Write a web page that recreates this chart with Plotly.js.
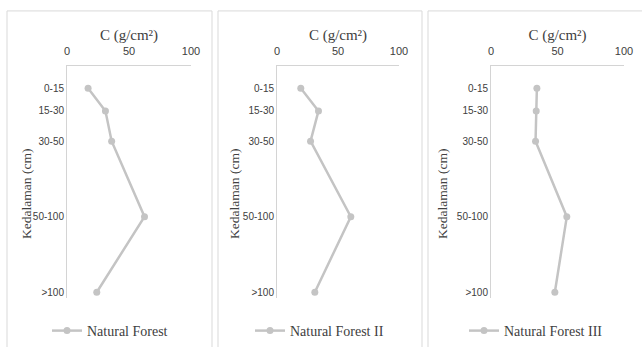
<!DOCTYPE html>
<html>
<head>
<meta charset="utf-8">
<script src="https://cdn.plot.ly/plotly-3.0.1.min.js"></script>
<style>
  html, body { margin: 0; padding: 0; background: #ffffff; }
  #chart { width: 642px; height: 347px; }
</style>
</head>
<body>
<div id="chart"></div>
<script>
// ---- data ----
const depthLabels = ["0-15", "15-30", "30-50", "50-100", ">100"];
const depthPos = [15, 30, 50, 100, 150];           // depth (cm) at which each layer is plotted
const forest1 = [17, 31, 36, 62.5, 24];             // Natural Forest
const forest2 = [19.5, 34, 27.5, 60.5, 31];         // Natural Forest II
const forest3 = [34.5, 34, 33.5, 57, 48];           // Natural Forest III
const seriesNames = ["Natural Forest", "Natural Forest II", "Natural Forest III"];
const xTicks = [0, 50, 100];

const W = 642, H = 347;
const px = v => v / W;
const py = v => 1 - v / H;

const lineColor = "#c4c4c4";
const axisColor = "#d4d4d4";
const serif = "'Liberation Serif', 'DejaVu Serif', serif";
const sans = "'Liberation Sans', 'Open Sans', sans-serif";

const xDomains = [[px(67), px(191)], [px(277), px(399)], [px(491), px(624)]];
const yDomain = [py(300), py(66)];
const series = [forest1, forest2, forest3];

const traces = series.map((vals, i) => ({
  type: "scatter",
  mode: "lines+markers",
  x: vals,
  y: depthPos,
  name: seriesNames[i],
  xaxis: i === 0 ? "x" : "x" + (i + 1),
  yaxis: i === 0 ? "y" : "y" + (i + 1),
  legend: i === 0 ? "legend" : "legend" + (i + 1),
  line: { color: lineColor, width: 2.5 },
  marker: { color: lineColor, size: 7 },
  hoverinfo: "x+y"
}));

const layout = {
  width: W, height: H,
  margin: { l: 0, r: 0, t: 0, b: 0 },
  paper_bgcolor: "#ffffff",
  plot_bgcolor: "#ffffff",
  showlegend: true,
  shapes: [],
  annotations: []
};

const legendX = [47, 250, 464];
const yTitleX = [27, 235, 443];

for (let i = 0; i < 3; i++) {
  const sfx = i === 0 ? "" : String(i + 1);
  layout["xaxis" + sfx] = {
    domain: xDomains[i],
    anchor: "y" + sfx,
    side: "top",
    range: [0, 100],
    tickvals: xTicks,
    ticks: "",
    ticklabelstandoff: 5,
    tickfont: { family: sans, size: 11, color: "#404040" },
    showline: true, linecolor: axisColor, linewidth: 1,
    showgrid: false, zeroline: false, fixedrange: true,
    title: { text: "C (g/cm²)", font: { family: serif, size: 15, color: "#404040" }, standoff: 0 }
  };
  layout["yaxis" + sfx] = {
    domain: yDomain,
    anchor: "x" + sfx,
    range: [154, 0],
    tickvals: depthPos,
    ticktext: depthLabels,
    ticks: "",
    ticklabelstandoff: 0,
    tickfont: { family: sans, size: 10, color: "#404040" },
    showline: true, linecolor: axisColor, linewidth: 1,
    showgrid: false, zeroline: false, fixedrange: true
  };
  layout.annotations.push({
    xref: "paper", yref: "paper",
    x: px(yTitleX[i]), y: py(195),
    xanchor: "center", yanchor: "middle",
    text: "Kedalaman (cm)", textangle: -90, showarrow: false,
    font: { family: serif, size: 13.5, color: "#404040" }
  });
  layout["legend" + sfx] = {
    x: px(legendX[i]), y: py(333),
    xanchor: "left", yanchor: "middle",
    orientation: "h",
    bgcolor: "rgba(0,0,0,0)",
    font: { family: serif, size: 14, color: "#404040" }
  };
}

// panel frames
const frames = [[7, 212], [218, 422], [428, 648]];
frames.forEach(f => {
  layout.shapes.push({
    type: "rect", xref: "paper", yref: "paper",
    x0: px(f[0]), x1: px(f[1]), y0: py(360), y1: py(11),
    line: { color: "#d9d9d9", width: 1 }, fillcolor: "rgba(0,0,0,0)", layer: "below"
  });
});

Plotly.newPlot("chart", traces, layout, { displayModeBar: false, staticPlot: true });
</script>
</body>
</html>
